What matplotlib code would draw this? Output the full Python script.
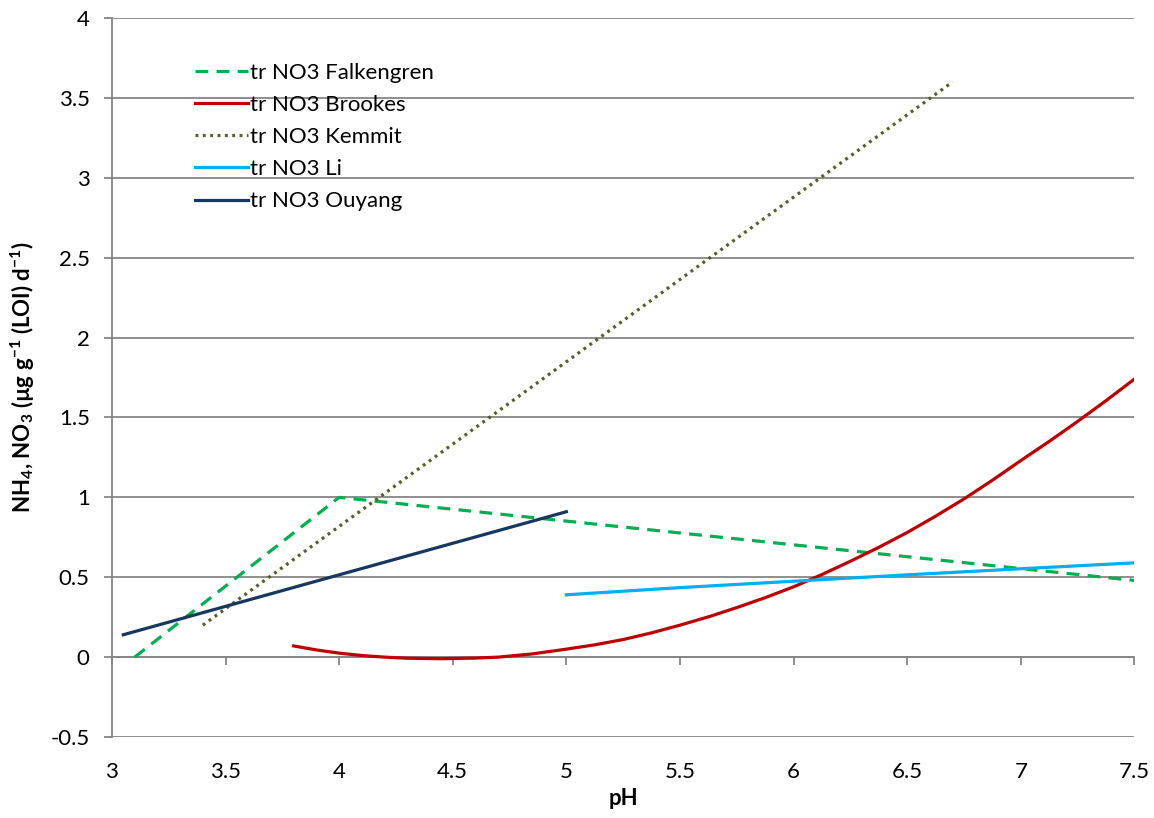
import matplotlib.pyplot as plt, numpy as np
from matplotlib.ticker import FuncFormatter

plt.rcParams['font.family'] = ['Lato', 'DejaVu Sans']
plt.rcParams['mathtext.default'] = 'regular'

# DATA
falk_ph = [3.1, 4.0, 7.5]
falk_val = [0.0, 1.0, 0.48]

brookes_ph = [3.8, 3.9, 4.0, 4.1, 4.2, 4.3, 4.45, 4.6, 4.7, 4.85, 5.0, 5.125, 5.25, 5.375, 5.5, 5.625,
              5.75, 5.875, 6.0, 6.125, 6.25, 6.375, 6.5, 6.625, 6.75, 6.875, 7.0, 7.125, 7.25, 7.375, 7.5]
brookes_val = [0.07, 0.045, 0.025, 0.01, 0.0, -0.007, -0.01, -0.006, 0.0, 0.02, 0.05, 0.077, 0.11, 0.152, 0.20, 0.252,
               0.31, 0.372, 0.44, 0.517, 0.60, 0.687, 0.78, 0.882, 0.99, 1.107, 1.23, 1.35, 1.475, 1.605, 1.74]

kemmit_ph = [3.4, 6.7]
kemmit_val = [0.2, 3.6]

li_ph = [5.0, 5.5, 6.0, 6.5, 7.0, 7.5]
li_val = [0.39, 0.435, 0.475, 0.515, 0.553, 0.59]

ouyang_ph = [3.05, 5.0]
ouyang_val = [0.14, 0.91]

x_ticks = [3, 3.5, 4, 4.5, 5, 5.5, 6, 6.5, 7, 7.5]
y_ticks = [-0.5, 0, 0.5, 1, 1.5, 2, 2.5, 3, 3.5, 4]

GRID = '#868686'
FS = 16

fig = plt.figure(figsize=(11.54, 8.18), dpi=100)
ax = fig.add_axes([0.097, 0.099, 0.886, 0.879])

ax.plot(falk_ph, falk_val, color='#00B050', lw=2.3, ls=(0, (4, 2.6)), label='tr NO3 Falkengren')
ax.plot(brookes_ph, brookes_val, color='#C00000', lw=2.3, label='tr NO3 Brookes')
ax.plot(kemmit_ph, kemmit_val, color='#4F6228', lw=2.3, ls=(0, (0.9, 1.4)), label='tr NO3 Kemmit')
ax.plot(li_ph, li_val, color='#00B0F0', lw=2.3, label='tr NO3 Li')
ax.plot(ouyang_ph, ouyang_val, color='#17375E', lw=2.3, label='tr NO3 Ouyang')

ax.set_xlim(3, 7.5)
ax.set_ylim(-0.5, 4)
ax.set_yticks(y_ticks)
ax.set_xticks(x_ticks)
fmt = FuncFormatter(lambda v, p: '%g' % v)
ax.xaxis.set_major_formatter(fmt)
ax.yaxis.set_major_formatter(fmt)

ax.yaxis.grid(True, color=GRID, lw=1.3)
ax.set_axisbelow(True)
for s in ['top', 'right', 'bottom']:
    ax.spines[s].set_visible(False)
ax.spines['left'].set_color(GRID)
ax.spines['left'].set_linewidth(1.3)

# labels at the bottom, tick marks on the zero line
ax.tick_params(axis='x', length=0, labelsize=FS, pad=18)
ax.tick_params(axis='y', length=6, width=1.3, color=GRID, labelsize=FS, pad=10)
sec = ax.secondary_xaxis(0.5 / 4.5)
sec.set_xticks(x_ticks)
sec.tick_params(axis='x', length=6, width=1.3, color=GRID, labelbottom=False)
sec.spines['bottom'].set_color(GRID)
sec.spines['bottom'].set_linewidth(1.3)

ax.set_xlabel('pH', fontsize=FS, fontweight='bold', labelpad=4)
ax.set_ylabel('NH$_4$, NO$_3$ (µg g$^{-1}$ (LOI) d$^{-1}$)', fontsize=FS, fontweight='bold', labelpad=10)

ax.legend(loc='upper left', bbox_to_anchor=(0.081, 0.938), frameon=False, fontsize=FS,
          borderpad=0, borderaxespad=0, handlelength=2.4, handletextpad=0.1, labelspacing=0.55)

fig.savefig('out.png')
